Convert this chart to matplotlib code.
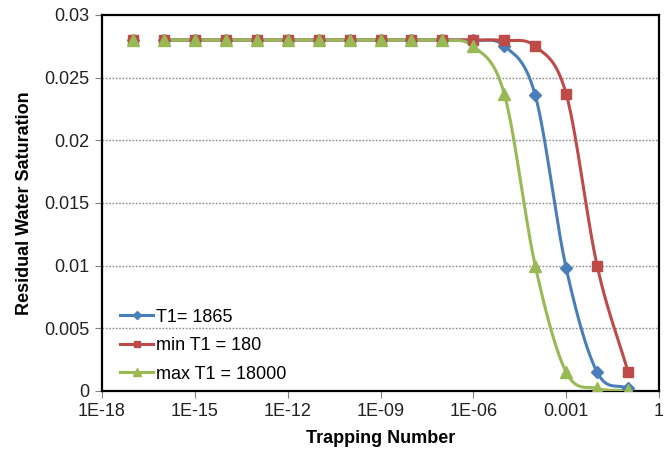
import numpy as np
import matplotlib.pyplot as plt
from matplotlib.ticker import FixedLocator

plt.rcParams['font.family'] = ['Liberation Sans', 'DejaVu Sans']

# trapping number, one point per decade
trap = [1e-17, 1e-16, 1e-15, 1e-14, 1e-13, 1e-12, 1e-11, 1e-10, 1e-9,
        1e-8, 1e-7, 1e-6, 1e-5, 1e-4, 1e-3, 1e-2, 1e-1]

sw_base = [0.028, 0.028, 0.028, 0.028, 0.028, 0.028, 0.028, 0.028, 0.028,
           0.028, 0.028, 0.02797, 0.02754, 0.0236, 0.0098, 0.0015, 0.0002]
sw_min = [0.028, 0.028, 0.028, 0.028, 0.028, 0.028, 0.028, 0.028, 0.028,
          0.028, 0.028, 0.028, 0.02797, 0.0275, 0.0237, 0.0100, 0.00152]
sw_max = [0.028, 0.028, 0.028, 0.028, 0.028, 0.028, 0.028, 0.028, 0.028,
          0.028, 0.02797, 0.0275, 0.0237, 0.0100, 0.0015, 0.0002, 0.00005]

labels = ['T1= 1865', 'min T1 = 180', 'max T1 = 18000']
colors = ['#4A7EBB', '#BE4B48', '#98B954']
markers = ['D', 's', '^']
msizes = [6.5, 7.5, 8.5]

xticks = [1e-18, 1e-15, 1e-12, 1e-9, 1e-6, 1e-3, 1]
xticklabels = ['1E-18', '1E-15', '1E-12', '1E-09', '1E-06', '0.001', '1']
yticks = [0, 0.005, 0.01, 0.015, 0.02, 0.025, 0.03]
yticklabels = ['0', '0.005', '0.01', '0.015', '0.02', '0.025', '0.03']


def smooth(xs, ys, n=30):
    # Catmull-Rom curve through the points in (log10 x, y) space, like Excel's smoothed line
    u = np.log10(np.asarray(xs, float))
    v = np.asarray(ys, float)
    P = np.column_stack([u, v])
    m = np.zeros_like(P)
    m[1:-1] = (P[2:] - P[:-2]) / 2
    m[0] = P[1] - P[0]
    m[-1] = P[-1] - P[-2]
    out = []
    t = np.linspace(0, 1, n)[:, None]
    for i in range(len(P) - 1):
        h00 = 2*t**3 - 3*t**2 + 1
        h10 = t**3 - 2*t**2 + t
        h01 = -2*t**3 + 3*t**2
        h11 = t**3 - t**2
        out.append(h00*P[i] + h10*m[i] + h01*P[i+1] + h11*m[i+1])
    out = np.vstack(out)
    return 10**out[:, 0], out[:, 1]


fig = plt.figure(figsize=(6.64, 4.54), dpi=100)
ax = fig.add_axes([0.1536, 0.1388, 0.8389, 0.8282])

series = [sw_base, sw_min, sw_max]
for ys, lab, c, mk, ms in zip(series, labels, colors, markers, msizes):
    sx, sy = smooth(trap[1:], ys[1:])
    ax.plot(sx, sy, color=c, lw=2.2, zorder=3)
    ax.plot(trap, ys, ls='none', marker=mk, ms=ms, color=c, mec=c, zorder=4)
    ax.plot([], [], color=c, lw=2.2, marker=mk, ms=ms - 2.5, label=lab)

ax.set_xscale('log')
ax.set_xlim(1e-18, 1)
ax.set_ylim(0, 0.03)
ax.xaxis.set_major_locator(FixedLocator(xticks))
ax.xaxis.set_minor_locator(FixedLocator([]))
ax.set_xticks(xticks)
ax.set_xticklabels(xticklabels)
ax.set_yticks(yticks)
ax.set_yticklabels(yticklabels)

for yv in yticks[1:-1]:
    ax.axhline(yv, color='#8C8C8C', lw=1.0, ls=(0, (1.2, 1.2)), zorder=1)

for s in ax.spines.values():
    s.set_color('black')
    s.set_linewidth(1.6)

ax.tick_params(axis='both', direction='out', length=5, width=0.8, color='#808080',
               labelsize=13, labelcolor='#222222', pad=4)

ax.set_xlabel('Trapping Number', fontsize=13, fontweight='bold', labelpad=7)
ax.set_ylabel('Residual Water Saturation', fontsize=13, fontweight='bold', labelpad=8)

ax.legend(loc='lower left', frameon=False, fontsize=13, handlelength=1.85,
          handletextpad=0.15, labelspacing=0.64, borderpad=0, borderaxespad=0,
          bbox_to_anchor=(0.032, 0.022))

fig.savefig('out.png', dpi=100)
